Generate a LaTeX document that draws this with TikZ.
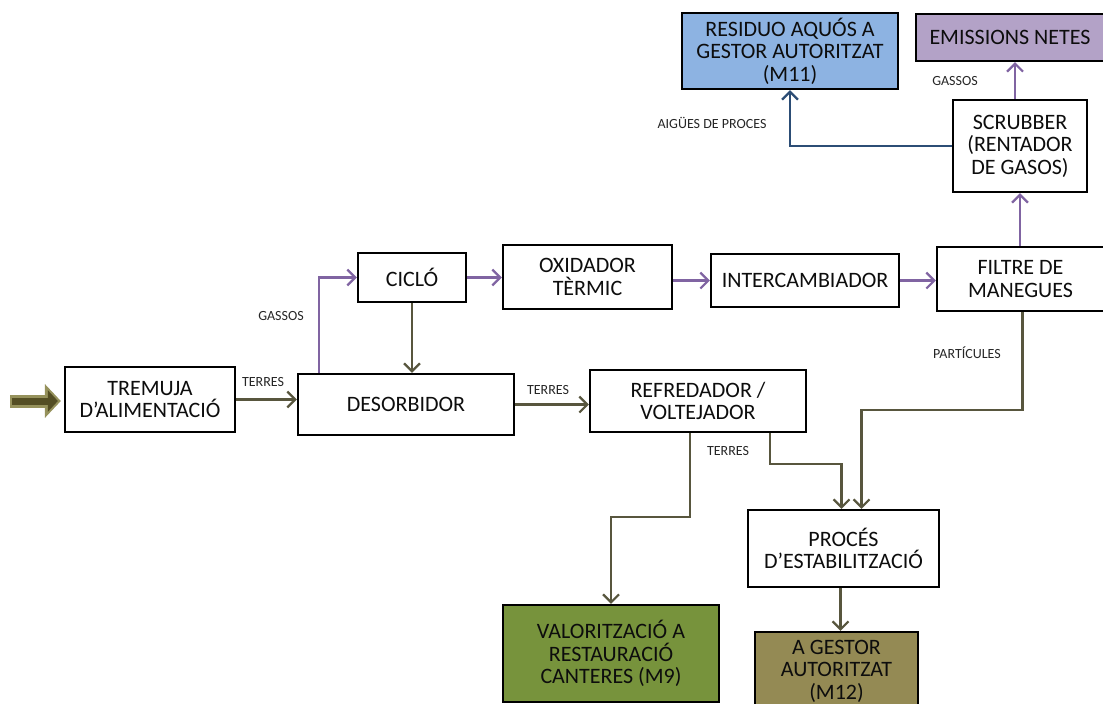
\documentclass[tikz,border=0pt]{standalone}
\usepackage{fontspec}
\setmainfont{Carlito}
\usepackage{xcolor}
\usetikzlibrary{arrows.meta}

\definecolor{soilline}{RGB}{88,86,62}
\definecolor{gasline}{RGB}{128,100,162}
\definecolor{waterline}{RGB}{44,77,117}
\definecolor{feedcol}{RGB}{84,78,36}
\definecolor{feedlight}{RGB}{150,146,92}
\definecolor{waterbox}{RGB}{141,179,226}
\definecolor{gasbox}{RGB}{179,162,199}
\definecolor{greenbox}{RGB}{119,147,60}
\definecolor{oliveboxc}{RGB}{148,138,84}

\begin{document}
\begin{tikzpicture}[
  x=1pt, y=-1pt,
  procbox/.style  = {draw, line width=2.3pt, fill=white, align=center,
                     inner sep=2pt, text=black!95,
                     font=\fontsize{22}{22.5}\selectfont},
  lbl/.style      = {font=\fontsize{14}{16}\selectfont, text=black!85},
  soilarr/.style  = {-{Straight Barb[length=8pt,width=16pt]},
                     line width=2.2pt, draw=soilline},
  gasarr/.style   = {soilarr, draw=gasline},
  waterarr/.style = {soilarr, draw=waterline},
  feedarr/.style  = {-{Triangle[length=16pt,width=33pt]},
                     line width=13pt, draw=feedlight},
  feedcore/.style = {-{Triangle[length=10pt,width=21pt]},
                     line width=7pt, draw=feedcol},
]
\useasboundingbox (0,0) rectangle (1103,704);

%% ── Soil line ────────────────────────────────────────────────────────────────
\node[procbox, minimum width=170pt, minimum height=65pt] (tremuja) at (150,399.5)
  {TREMUJA\\D’ALIMENTACIÓ};
\node[procbox, minimum width=216pt, minimum height=61pt] (desorbidor) at (406,404.5)
  {DESORBIDOR};
\node[procbox, minimum width=216pt, minimum height=62pt] (refredador) at (698,401)
  {REFREDADOR /\\VOLTEJADOR};
\node[procbox, minimum width=191pt, minimum height=77pt] (proces) at (843.5,548.5)
  {PROCÉS\\D’ESTABILITZACIÓ};
\node[procbox, fill=greenbox, minimum width=216pt, minimum height=97pt] (valoritzacio)
  at (611,653.5) {VALORITZACIÓ A\\RESTAURACIÓ\\CANTERES (M9)};
\node[procbox, fill=oliveboxc, minimum width=163pt, minimum height=78pt] (gestor)
  at (836.5,671) {A GESTOR\\AUTORITZAT\\(M12)};

%% ── Gas line ─────────────────────────────────────────────────────────────────
\node[procbox, minimum width=108pt, minimum height=49pt] (ciclo) at (412,277.5) {CICLÓ};
\node[procbox, minimum width=169pt, minimum height=64pt] (oxidador) at (587.5,277)
  {OXIDADOR\\TÈRMIC};
\node[procbox, minimum width=188pt, minimum height=53pt] (intercanvi) at (805,280.5)
  {INTERCAMBIADOR};
\node[procbox, minimum width=167pt, minimum height=64pt] (filtre) at (1020.5,279)
  {FILTRE DE\\MANEGUES};
\node[procbox, minimum width=134pt, minimum height=92pt] (scrubber) at (1020,146)
  {SCRUBBER\\(RENTADOR\\DE GASOS)};
\node[procbox, fill=gasbox, minimum width=188pt, minimum height=47pt] (emissions)
  at (1010,37.5) {EMISSIONS NETES};
\node[procbox, fill=waterbox, minimum width=216pt, minimum height=76pt] (residuo)
  at (790,51) {RESIDUO AQUÓS A\\GESTOR AUTORITZAT\\(M11)};

%% ── Feed ─────────────────────────────────────────────────────────────────────
\coordinate (feedin) at (10,401);
\draw[feedarr, shorten >=3pt] (feedin) -- (feedin -| tremuja.west);
\draw[feedcore, shorten >=6pt] ([xshift=1.5pt]feedin) -- (feedin -| tremuja.west);

%% ── Connectors ───────────────────────────────────────────────────────────────
\draw[soilarr] (tremuja.east) -- (tremuja.east -| desorbidor.west);
\draw[gasarr] ([xshift=22pt]desorbidor.north west) |- (ciclo.west);
\draw[soilarr] (ciclo.south) -- (ciclo.south |- desorbidor.north);
\draw[gasarr] (ciclo.east) -- (ciclo.east -| oxidador.west);
\draw[gasarr] (oxidador.east |- intercanvi) -- (intercanvi.west);
\draw[gasarr] (intercanvi.east) -- (intercanvi.east -| filtre.west);
\draw[gasarr] (filtre.north -| scrubber.south) -- (scrubber.south);
\draw[gasarr] ([xshift=-5pt]scrubber.north) -- ([xshift=-5pt]scrubber.north |- emissions.south);
\draw[waterarr] (scrubber.west) -| (residuo.south);
\draw[soilarr] (desorbidor.east) -- (desorbidor.east -| refredador.west);
\draw[soilarr] ([xshift=101pt]refredador.south west)
  |- ([yshift=87pt]valoritzacio.north) -- (valoritzacio.north);
\draw[soilarr] ([xshift=181pt]refredador.south west)
  |- ([xshift=-2pt,yshift=45pt]proces.north) -- ([xshift=-2pt]proces.north);
\draw[soilarr] ([xshift=2pt]filtre.south)
  |- ([xshift=18pt,yshift=99pt]proces.north) -- ([xshift=18pt]proces.north);
\draw[soilarr] ([xshift=-3pt]proces.south) -- ([xshift=-3pt]proces.south |- gestor.north);

%% ── Flow labels ──────────────────────────────────────────────────────────────
\node[lbl] (lterres1) at (263,382) {TERRES};
\node[lbl] (lgassos1) at (281,316) {GASSOS};
\node[lbl] (lterres2) at (548,390) {TERRES};
\node[lbl] (lterres3) at (728,451) {TERRES};
\node[lbl] (lparticules) at (967,353) {PARTÍCULES};
\node[lbl] (lgassos2) at (955,81) {GASSOS};
\node[lbl] (laigues) at (712,123) {AIGÜES DE PROCES};

\end{tikzpicture}
\end{document}
